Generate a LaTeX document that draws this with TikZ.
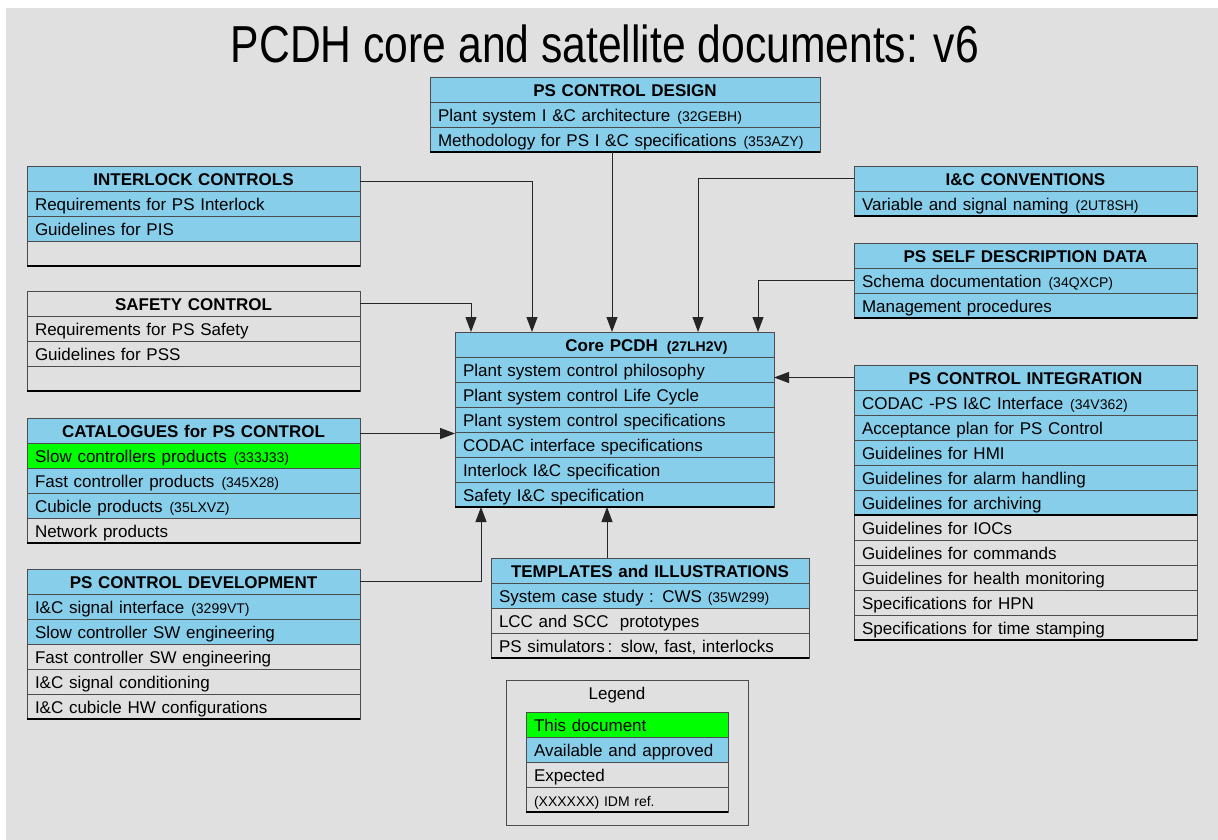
\documentclass[tikz,border=0pt]{standalone}
\usepackage{fontspec}
\setmainfont{Liberation Sans}
\usetikzlibrary{positioning,arrows.meta}
\definecolor{PcBlue}{HTML}{87CEEB}
\definecolor{PcGreen}{HTML}{00FF00}
\definecolor{PcGray}{HTML}{E0E0E0}
\newcommand{\idmref}[1]{\hspace{7pt}{\fontsize{14}{16}\selectfont(#1)}}

\begin{document}
\begin{tikzpicture}[x=1pt,y=-1pt,node distance=0pt,>={Triangle[width=11pt,length=15pt]},
  cell/.style={draw=black!70,fill=#1,minimum height=25pt,inner xsep=8pt,inner ysep=0pt,outer sep=0pt,
    text height=15pt,text depth=1pt,align=left,font=\fontsize{17}{20}\selectfont},
  cell/.default=PcBlue,
  head/.style={cell=#1,align=center,font=\bfseries\fontsize{17}{20}\selectfont},
  head/.default=PcBlue,
  conn/.style={->,line width=1pt,black!85}]
  \fill[PcGray] (6,8) rectangle (1218,840);
  \useasboundingbox (0,0) rectangle (1218,840);
  \node (title) at (605,44) {\fontsize{52}{60}\selectfont\scalebox{.82}[1]{PCDH core and satellite documents: v6}};

  % top
  \begin{scope}[every node/.append style={text width=374pt}]
    \node[head,anchor=north west] (des) at (430,77) {PS CONTROL DESIGN};
    \node[cell,below=of des] (des1) {Plant system I \&C architecture\idmref{32GEBH}};
    \node[cell,below=of des1] (des2) {Methodology for PS I \&C specifications\idmref{353AZY}};
  \end{scope}

  % left column
  \begin{scope}[every node/.append style={text width=317pt}]
    \node[head,anchor=north west] (ilk) at (27,166) {INTERLOCK CONTROLS};
    \node[cell,below=of ilk] (ilk1) {Requirements for PS Interlock};
    \node[cell,below=of ilk1] (ilk2) {Guidelines for PIS};
    \node[cell=PcGray,below=of ilk2] (ilk3) {};

    \node[head=PcGray,anchor=north west] (saf) at (27,291) {SAFETY CONTROL};
    \node[cell=PcGray,below=of saf] (saf1) {Requirements for PS Safety};
    \node[cell=PcGray,below=of saf1] (saf2) {Guidelines for PSS};
    \node[cell=PcGray,below=of saf2] (saf3) {};

    \node[head,anchor=north west] (cat) at (27,418) {CATALOGUES for PS CONTROL};
    \node[cell=PcGreen,below=of cat] (cat1) {Slow controllers products\idmref{333J33}};
    \node[cell,below=of cat1] (cat2) {Fast controller products\idmref{345X28}};
    \node[cell,below=of cat2] (cat3) {Cubicle products\idmref{35LXVZ}};
    \node[cell=PcGray,below=of cat3] (cat4) {Network products};

    \node[head,anchor=north west] (dev) at (27,569) {PS CONTROL DEVELOPMENT};
    \node[cell,below=of dev] (dev1) {I\&C signal interface\idmref{3299VT}};
    \node[cell,below=of dev1] (dev2) {Slow controller SW engineering};
    \node[cell=PcGray,below=of dev2] (dev3) {Fast controller SW engineering};
    \node[cell=PcGray,below=of dev3] (dev4) {I\&C signal conditioning};
    \node[cell=PcGray,below=of dev4] (dev5) {I\&C cubicle HW configurations};
  \end{scope}

  % core
  \begin{scope}[every node/.append style={text width=303pt,minimum height=25.6pt}]
    \node[head,anchor=north west] (core) at (455,332) {\hspace*{64pt}Core PCDH\hspace{9pt}{\fontsize{14}{16}\selectfont(27LH2V)}};
    \node[cell,below=of core] (core1) {Plant system control philosophy};
    \node[cell,below=of core1] (core2) {Plant system control Life Cycle};
    \node[cell,below=of core2] (core3) {Plant system control specifications};
    \node[cell,below=of core3] (core4) {CODAC interface specifications};
    \node[cell,below=of core4] (core5) {Interlock I\&C specification};
    \node[cell,below=of core5] (core6) {Safety I\&C specification};
  \end{scope}

  % right column
  \begin{scope}[every node/.append style={text width=327pt}]
    \node[head,anchor=north west] (icc) at (854,166) {I\&C CONVENTIONS};
    \node[cell,below=of icc] (icc1) {Variable and signal naming\idmref{2UT8SH}};

    \node[head,anchor=north west] (sdd) at (854,243) {PS SELF DESCRIPTION DATA};
    \node[cell,below=of sdd] (sdd1) {Schema documentation\idmref{34QXCP}};
    \node[cell,below=of sdd1] (sdd2) {Management procedures};

    \node[head,anchor=north west] (pci) at (854,365) {PS CONTROL INTEGRATION};
    \node[cell,below=of pci] (pci1) {CODAC -PS I\&C Interface\idmref{34V362}};
    \node[cell,below=of pci1] (pci2) {Acceptance plan for PS Control};
    \node[cell,below=of pci2] (pci3) {Guidelines for HMI};
    \node[cell,below=of pci3] (pci4) {Guidelines for alarm handling};
    \node[cell,below=of pci4] (pci5) {Guidelines for archiving};
    \node[cell=PcGray,below=of pci5] (pci6) {Guidelines for IOCs};
    \node[cell=PcGray,below=of pci6] (pci7) {Guidelines for commands};
    \node[cell=PcGray,below=of pci7] (pci8) {Guidelines for health monitoring};
    \node[cell=PcGray,below=of pci8] (pci9) {Specifications for HPN};
    \node[cell=PcGray,below=of pci9] (pci10) {Specifications for time stamping};
  \end{scope}

  % bottom
  \begin{scope}[every node/.append style={text width=302pt}]
    \node[head,anchor=north west] (tpl) at (491,558) {TEMPLATES and ILLUSTRATIONS};
    \node[cell,below=of tpl] (tpl1) {System case study : CWS {\fontsize{14}{16}\selectfont(35W299)}};
    \node[cell=PcGray,below=of tpl1] (tpl2) {LCC and SCC\ \ prototypes};
    \node[cell=PcGray,below=of tpl2] (tpl3) {PS simulators\,: slow, fast, interlocks};
  \end{scope}

  % legend
  \node[draw=black!70,minimum width=242pt,minimum height=145pt,inner sep=0pt,outer sep=0pt,anchor=north west] (leg) at (506,680) {};
  \node[font=\fontsize{17}{20}\selectfont] (legt) at (617,695) {Legend};
  \begin{scope}[every node/.append style={text width=186pt}]
    \node[cell=PcGreen,anchor=north west] (leg1) at (526,712) {This document};
    \node[cell,below=of leg1] (leg2) {Available and approved};
    \node[cell=PcGray,below=of leg2] (leg3) {Expected};
    \node[cell=PcGray,below=of leg3,font=\fontsize{14}{16}\selectfont] (leg4) {(XXXXXX) IDM ref.};
  \end{scope}

  \foreach \b in {des2,ilk3,saf3,cat4,dev5,core6,icc1,sdd2,pci5,pci10,tpl3,leg4}
    \draw[line width=1.4pt] (\b.south west) -- (\b.south east);

  % connectors
  \coordinate (cin1) at ([xshift=16pt]core.north west);
  \coordinate (cin2) at ([xshift=77pt]core.north west);
  \coordinate (cin3) at ([xshift=157pt]core.north west);
  \coordinate (cin4) at ([xshift=243pt]core.north west);
  \coordinate (cin5) at ([xshift=303pt]core.north west);
  \coordinate (cb1) at ([xshift=26pt]core6.south west);
  \coordinate (cb2) at ([xshift=152pt]core6.south west);
  \draw[conn] (saf.east) -| (cin1);
  \draw[conn] ([yshift=-3pt]ilk.east) -| (cin2);
  \draw[conn] (cin3 |- des2.south) -- (cin3);
  \draw[conn] (icc.west) -| (cin4);
  \draw[conn] (sdd1.west) -| (cin5);
  \draw[conn] (pci.west) -- (pci.west -| core.east);
  \draw[conn] ([yshift=-3pt]cat.east) -- ([yshift=-3pt]cat.east -| core.west);
  \draw[conn] (dev.east) -| (cb1);
  \draw[conn] (cb2 |- tpl.north) -- (cb2);
\end{tikzpicture}
\end{document}
